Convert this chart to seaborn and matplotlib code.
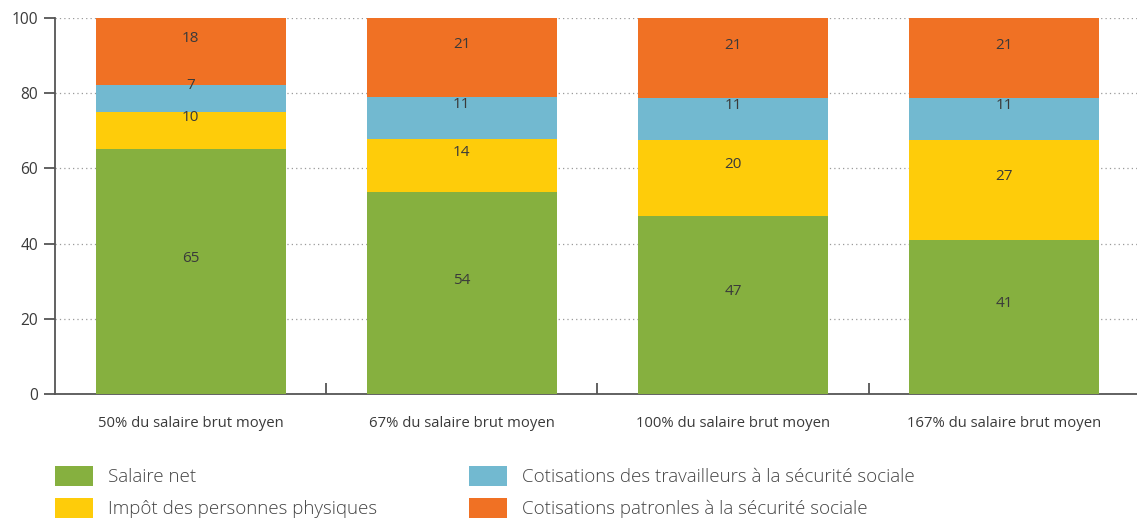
import matplotlib
matplotlib.use("Agg")
import matplotlib.pyplot as plt
from matplotlib.patches import Patch
import numpy as np
import pandas as pd
import seaborn as sns

# Wage levels (share of the average gross wage)
categories = [
    "50% du salaire brut moyen",
    "67% du salaire brut moyen",
    "100% du salaire brut moyen",
    "167% du salaire brut moyen",
]

# Components of total labour cost, in %
salaire_net = [65.2, 53.6, 47.3, 40.9]
impot = [9.7, 14.3, 20.3, 26.7]
cotis_travailleurs = [7.3, 11.1, 11.0, 11.0]
cotis_patronales = [17.8, 21.0, 21.4, 21.4]

series_names = [
    "Salaire net",
    "Impôt des personnes physiques",
    "Cotisations des travailleurs à la sécurité sociale",
    "Cotisations patronles à la sécurité sociale",
]
series_values = [salaire_net, impot, cotis_travailleurs, cotis_patronales]
colors = ["#86B03F", "#FECC0A", "#72B9D0", "#F07124"]

sns.set_theme(style="white")
plt.rcParams["font.family"] = ["Open Sans", "DejaVu Sans"]
text_color = "#3a3a3a"

fig = plt.figure(figsize=(11.37, 5.22), dpi=100)
ax = fig.add_axes([0.0484, 0.2452, 0.9516, 0.7203])

cum = np.cumsum(np.array(series_values), axis=0)

# Stacked bars: draw cumulative totals from the top layer down
for i in range(len(series_names) - 1, -1, -1):
    layer = pd.DataFrame({"categorie": categories, "total": cum[i]})
    sns.barplot(data=layer, x="categorie", y="total", color=colors[i],
                width=0.70, saturation=1, linewidth=0, edgecolor="none",
                ax=ax, zorder=3)

# Value labels inside each segment
for i, vals in enumerate(series_values):
    bottoms = cum[i] - np.array(vals)
    for j, v in enumerate(vals):
        ax.annotate(f"{v:.0f}", xy=(j, bottoms[j] + v / 2), xytext=(0, 9.5),
                    textcoords="offset points", ha="center", va="center",
                    fontsize=11, color=text_color, zorder=5)

ax.set_ylim(0, 100)
ax.set_xlim(-0.5, 3.49)
ax.set_yticks([0, 20, 40, 60, 80, 100])
ax.set_xlabel("")
ax.set_ylabel("")
ax.yaxis.grid(True, linestyle=(0, (1, 2.5)), color="#9a9a9a", linewidth=0.9, zorder=0)
ax.xaxis.grid(False)
ax.set_axisbelow(True)

for side in ["top", "right"]:
    ax.spines[side].set_visible(False)
for side in ["left", "bottom"]:
    ax.spines[side].set_color("#555555")
    ax.spines[side].set_linewidth(1.3)

ax.tick_params(axis="y", direction="out", length=8, width=1.3, color="#555555",
               labelsize=11.2, labelcolor=text_color, pad=4, left=True)
ax.tick_params(axis="x", which="major", length=0, labelsize=10.7,
               labelcolor=text_color, pad=16)
ax.set_xticks([0.5, 1.5, 2.5], minor=True)
ax.tick_params(axis="x", which="minor", direction="in", length=8, width=1.3,
               color="#555555", bottom=True)

handles = [Patch(facecolor=c, edgecolor="none") for c in colors]
fig.legend(handles, series_names, ncol=2, loc="upper left",
           bbox_to_anchor=(55 / 1137, 1 - 466 / 522), frameon=False,
           prop={"size": 13.5, "weight": "light"},
           handlelength=2.03, handleheight=1.25, handletextpad=0.8,
           columnspacing=4.9, labelspacing=0.62, borderpad=0,
           borderaxespad=0, labelcolor="#444444")

fig.savefig("out.png", dpi=100)
